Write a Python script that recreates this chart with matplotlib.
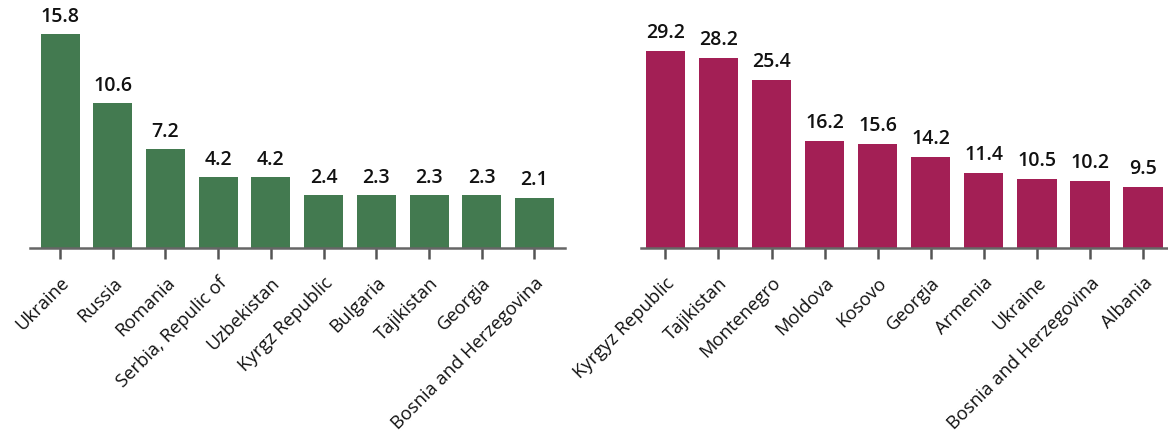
import matplotlib
matplotlib.use("Agg")
import matplotlib.pyplot as plt

left_cats = ["Ukraine", "Russia", "Romania", "Serbia, Repulic of", "Uzbekistan",
             "Kyrgz Republic", "Bulgaria", "Tajikistan", "Georgia", "Bosnia and Herzegovina"]
left_labels = [15.8, 10.6, 7.2, 4.2, 4.2, 2.4, 2.3, 2.3, 2.3, 2.1]
# bar heights as drawn in the picture (same units as labels, scaled to first bar)
left_heights = [15.8, 10.69, 7.28, 5.21, 5.21, 3.87, 3.87, 3.87, 3.87, 3.67]

right_cats = ["Kyrgyz Republic", "Tajikistan", "Montenegro", "Moldova", "Kosovo",
              "Georgia", "Armenia", "Ukraine", "Bosnia and Herzegovina", "Albania"]
right_labels = [29.2, 28.2, 25.4, 16.2, 15.6, 14.2, 11.4, 10.5, 10.2, 9.5]
right_heights = [29.2, 28.16, 24.89, 15.82, 15.38, 13.45, 11.07, 10.18, 9.88, 8.99]

plt.rcParams['font.family'] = ['Open Sans', 'DejaVu Sans']

W, H = 1168, 434
fig = plt.figure(figsize=(W/100, H/100), dpi=100)
base = 247.5
ax1 = fig.add_axes([30/W, 1-base/H, (565-30)/W, base/H])
ax2 = fig.add_axes([641/W, 1-base/H, (W-641)/W, base/H])

def draw(ax, cats, heights, labels, color, ymax, xlim):
    x = range(len(cats))
    bars = ax.bar(x, heights, width=0.74, color=color, zorder=2)
    for b, h, v in zip(bars, heights, labels):
        ax.annotate(f"{v:.1f}", (b.get_x() + b.get_width()/2, h),
                    xytext=(0, 5.5), textcoords='offset points',
                    ha='center', va='bottom', fontsize=14, color='#111111',
                    fontweight='semibold')
    ax.set_ylim(0, ymax)
    ax.set_xlim(*xlim)
    ax.set_xticks(list(x))
    ax.set_xticklabels(cats, rotation=45, ha='right', rotation_mode='anchor',
                       fontsize=13.2, color='#111111')
    for s in ['top', 'right', 'left']:
        ax.spines[s].set_visible(False)
    ax.spines['bottom'].set_color('#666666')
    ax.spines['bottom'].set_linewidth(1.8)
    ax.tick_params(axis='x', length=8, width=1.8, color='#555555', pad=11)
    ax.set_yticks([])
    ax.patch.set_alpha(0)

draw(ax1, left_cats, left_heights, left_labels, '#437A50', 15.8*base/213.3, (-0.57, 9.58))
draw(ax2, right_cats, right_heights, right_labels, '#A31F55', 29.2*base/196.5, (-0.46, 9.47))

fig.savefig("out.png", dpi=100)
